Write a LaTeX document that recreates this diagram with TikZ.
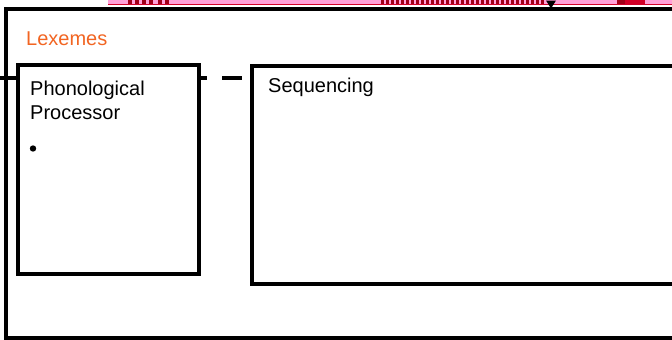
\documentclass[tikz,border=0pt]{standalone}
\usepackage{fontspec}
\setmainfont{Liberation Sans}
\usetikzlibrary{calc}
\definecolor{lexorange}{RGB}{242,101,34}
\definecolor{stripink}{RGB}{255,160,215}
\definecolor{stripred}{RGB}{210,0,40}
\definecolor{darkred}{RGB}{160,0,25}
\begin{document}
\begin{tikzpicture}[x=1pt,y=-1pt,
  boxline/.style={draw=black,line width=4pt,fill=white},
  lbl/.style={inner sep=0pt,anchor=base west,font=\fontsize{20}{24}\selectfont},
  dashlink/.style={draw=black,line width=4pt,dash pattern=on 207pt off 15pt on 20pt off 100pt}]
\useasboundingbox (0,0) rectangle (672,340);
% top strip artifact
\fill[stripink] (108,0) rectangle (672,4);
\fill[stripred] (108,3.5) rectangle (672,5);
\foreach \a in {128,135,142,149,158,165}
  \fill[darkred] (\a,0) rectangle ++(4,4);
\foreach \a in {381,386,...,545}
  \fill[darkred] (\a,0) rectangle ++(3,4);
\fill[darkred] (617,0) rectangle (634,4);
\fill[stripred] (625,0) rectangle (645,4);
% outer box
\draw[boxline] (5.5,8.5) rectangle (700,338);
\coordinate (top) at (551,8.5);
\fill[black] ($(top)+(-5,-8)$) -- ($(top)+(5,-8)$) -- (top) -- cycle;
% dashed link
\coordinate (dstart) at (0,78);
\coordinate (dend) at (252,78);
\draw[dashlink] (dstart) -- (dend);
% boxes
\draw[boxline] (17.5,65) rectangle (199,273.5);
\draw[boxline] (252,66) rectangle (700,284);
% texts
\node[lbl,text=lexorange] (lex) at (26,45) {Lexemes};
\node[lbl] (phon1) at (30,95) {Phonological};
\node[lbl] (phon2) at (30,119) {Processor};
\fill[black] (33,148.5) circle (3.2);
\node[lbl] (seq) at (268,92) {Sequencing};
\end{tikzpicture}
\end{document}
